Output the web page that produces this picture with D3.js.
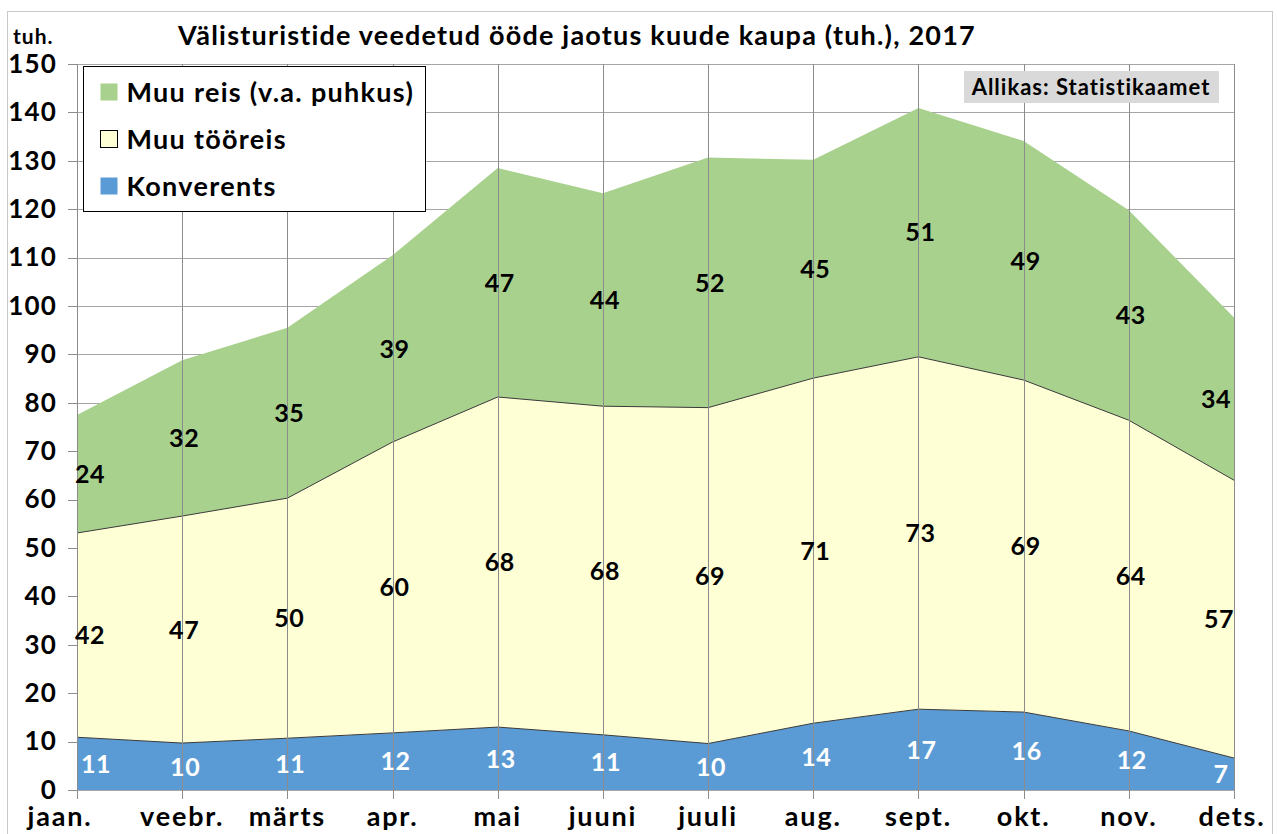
<!DOCTYPE html>
<html lang="et">
<head>
<meta charset="UTF-8">
<title>Välisturistide veedetud ööde jaotus</title>
<script src="https://d3js.org/d3.v7.min.js"></script>
<style>
  body { margin: 0; background: #fff; }
  text { font-family: Lato, "Open Sans", sans-serif; font-weight: bold; }
</style>
</head>
<body>
<div id="chart"></div>
<script>
// months on the x axis
var months = ["jaan.", "veebr.", "märts", "apr.", "mai", "juuni", "juuli", "aug.", "sept.", "okt.", "nov.", "dets."];
// series values, thousands of nights
var konverents = [10.9, 9.7, 10.7, 11.8, 13.0, 11.4, 9.6, 13.8, 16.7, 16.1, 12.2, 6.6];
var tooreis = [42.2, 46.9, 49.6, 60.1, 68.2, 67.9, 69.4, 71.3, 72.8, 68.6, 64.2, 57.4];
var muuReis = [24.4, 32.2, 35.2, 38.6, 47.3, 44.0, 51.7, 45.1, 51.4, 49.4, 43.4, 33.6];
var seriesNames = ["Konverents", "Muu tööreis", "Muu reis (v.a. puhkus)"];
var yTicks = [0, 10, 20, 30, 40, 50, 60, 70, 80, 90, 100, 110, 120, 130, 140, 150];

var W = 1277, H = 834;
var margin = {top: 64, right: 43, bottom: 44, left: 77};
var width = W - margin.left - margin.right,
    height = H - margin.top - margin.bottom;

var colors = ["#5b9bd5", "#ffffd6", "#a9d18e"];

var svg = d3.select("#chart").append("svg")
    .attr("width", W)
    .attr("height", H);

// outer chart border
svg.append("rect")
    .attr("x", 7.5).attr("y", 11.5)
    .attr("width", 1265).attr("height", 840)
    .attr("fill", "none").attr("stroke", "#c8c8c8");

var g = svg.append("g")
    .attr("transform", "translate(" + margin.left + "," + margin.top + ")");

var x = d3.scalePoint().domain(months).range([0, width]);
var y = d3.scaleLinear().domain([0, 150]).range([height, 0]);

var data = months.map(function(m, i) {
  return {month: m, "Konverents": konverents[i], "Muu tööreis": tooreis[i], "Muu reis (v.a. puhkus)": muuReis[i]};
});
var stacked = d3.stack().keys(seriesNames)(data);

// horizontal grid (behind the areas)
g.append("g").selectAll("line")
  .data(yTicks)
  .enter().append("line")
    .attr("x1", 0).attr("x2", width)
    .attr("y1", function(d) { return Math.round(y(d)) + 0.5; })
    .attr("y2", function(d) { return Math.round(y(d)) + 0.5; })
    .attr("stroke", "#a6a6a6");

var area = d3.area()
    .x(function(d) { return x(d.data.month); })
    .y0(function(d) { return y(d[0]); })
    .y1(function(d) { return y(d[1]); });

g.append("g").selectAll("path")
  .data(stacked)
  .enter().append("path")
    .attr("d", area)
    .attr("fill", function(d, i) { return colors[i]; });

// thin dark borders on top of the two lower series
var topLine = d3.line()
    .x(function(d) { return x(d.data.month); })
    .y(function(d) { return y(d[1]); });
g.append("g").selectAll("path")
  .data(stacked.slice(0, 2))
  .enter().append("path")
    .attr("d", topLine)
    .attr("fill", "none")
    .attr("stroke", "#3a3a3a")
    .attr("stroke-width", 1);

// vertical grid drawn over the areas
g.append("g").selectAll("line")
  .data(months)
  .enter().append("line")
    .attr("x1", function(d) { return Math.round(x(d)) + 0.5; })
    .attr("x2", function(d) { return Math.round(x(d)) + 0.5; })
    .attr("y1", 0).attr("y2", height + 9)
    .attr("stroke", "#8c8c8c");

// y axis ticks + labels
g.append("g").selectAll("line")
  .data(yTicks)
  .enter().append("line")
    .attr("x1", -9).attr("x2", 0)
    .attr("y1", function(d) { return Math.round(y(d)) + 0.5; })
    .attr("y2", function(d) { return Math.round(y(d)) + 0.5; })
    .attr("stroke", "#8c8c8c");
g.append("g").selectAll("text")
  .data(yTicks)
  .enter().append("text")
    .attr("x", -20)
    .attr("y", function(d) { return y(d); })
    .attr("dy", "0.34em")
    .attr("text-anchor", "end")
    .style("font-size", "26px")
    .style("letter-spacing", "1.2px")
    .text(function(d) { return d; });

// month labels
g.append("g").selectAll("text")
  .data(months)
  .enter().append("text")
    .attr("x", function(d, i) { return x(d) + (i === 0 ? -17 : i === months.length - 1 ? -2 : 0); })
    .attr("y", height + 36)
    .attr("text-anchor", "middle")
    .style("font-size", "27px")
    .style("letter-spacing", "1.8px")
    .text(function(d) { return d; });

// data labels at middle of each band
var labelColor = ["#ffffff", "#000000", "#000000"];
var xNudge = function(i, s) {
  if (i === 0) return s === 0 ? 19 : 13;
  if (i === months.length - 1) return s === 0 ? -13 : s === 1 ? -15 : -18;
  return s === 0 ? 3 : 2;
};
stacked.forEach(function(layer, s) {
  g.append("g").selectAll("text")
    .data(layer)
    .enter().append("text")
      .attr("x", function(d, i) { return x(d.data.month) + xNudge(i, s); })
      .attr("y", function(d) { return y((d[0] + d[1]) / 2); })
      .attr("dy", "0.36em")
      .attr("text-anchor", "middle")
      .attr("fill", labelColor[s])
      .style("font-size", "25px")
      .style("letter-spacing", "0.6px")
      .text(function(d) { return Math.round(d[1] - d[0]); });
});

// legend
var legend = svg.append("g").attr("transform", "translate(83.5,66.5)");
legend.append("rect")
    .attr("width", 342).attr("height", 145)
    .attr("fill", "#fff").attr("stroke", "#000");
var legendOrder = [2, 1, 0];
legendOrder.forEach(function(s, k) {
  var row = legend.append("g").attr("transform", "translate(17," + (26 + k * 47) + ")");
  row.append("rect")
      .attr("x", 0).attr("y", -9)
      .attr("width", 17).attr("height", 17)
      .attr("fill", colors[s])
      .attr("stroke", s === 1 ? "#000" : "none");
  row.append("text")
      .attr("x", 26).attr("y", 0)
      .attr("dy", "0.36em")
      .style("font-size", "27px")
      .style("letter-spacing", "1.3px")
      .text(seriesNames[s]);
});

// source box
svg.append("rect")
    .attr("x", 964).attr("y", 71)
    .attr("width", 255).attr("height", 32)
    .attr("fill", "#d9d9d9");
svg.append("text")
    .attr("x", 1091).attr("y", 87)
    .attr("dy", "0.36em")
    .attr("text-anchor", "middle")
    .style("font-size", "22px")
    .style("letter-spacing", "1px")
    .text("Allikas: Statistikaamet");

// title and unit
svg.append("text")
    .attr("x", 577).attr("y", 35)
    .attr("dy", "0.36em")
    .attr("text-anchor", "middle")
    .style("font-size", "27px")
    .style("letter-spacing", "1.2px")
    .text("Välisturistide veedetud ööde jaotus kuude kaupa (tuh.), 2017");
svg.append("text")
    .attr("x", 13).attr("y", 36)
    .attr("dy", "0.36em")
    .style("font-size", "21px")
    .style("letter-spacing", "1px")
    .text("tuh.");
</script>
</body>
</html>
